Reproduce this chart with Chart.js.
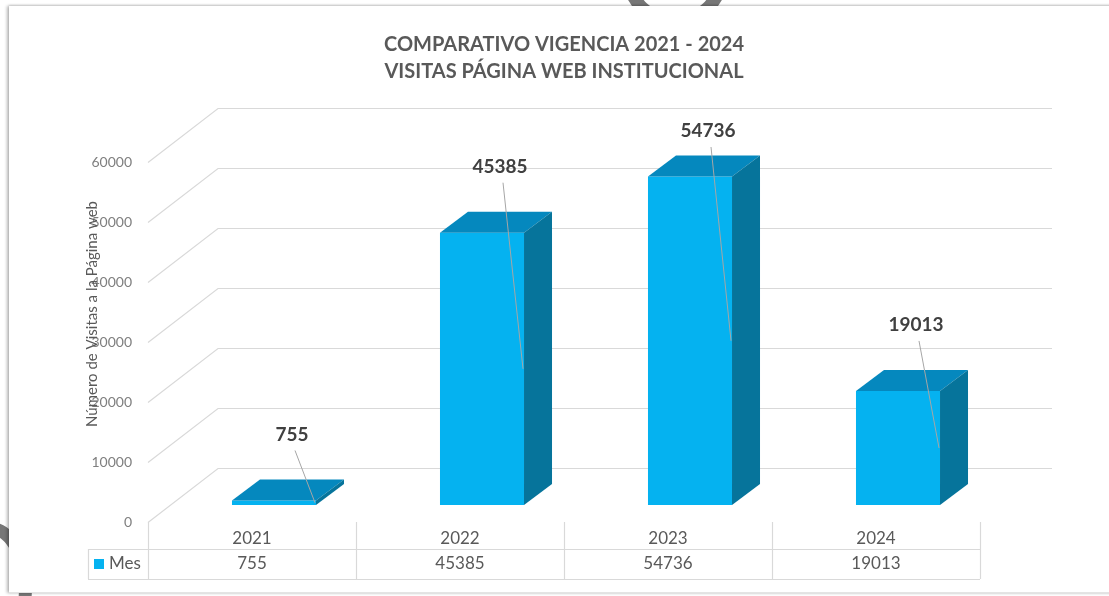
<!DOCTYPE html>
<html>
<head>
<meta charset="utf-8">
<title>Comparativo vigencia 2021 - 2024</title>
<script src="https://cdn.jsdelivr.net/npm/chart.js@4.4.1/dist/chart.umd.min.js"></script>
<style>
  html, body { margin: 0; padding: 0; background: #fff; overflow: hidden; }
  .ring { position: absolute; border-radius: 50%; border: 13px solid #777; }
  #card {
    position: absolute; left: 9px; top: 6px; width: 1110px; height: 586px;
    background: #fff;
    box-shadow: -2px 0 3px rgba(0,0,0,0.28), 0 -1px 2px rgba(0,0,0,0.12);
    border-bottom: 1px solid #e4e4e4;
  }
  #wrap { position: absolute; left: 0; top: 0; width: 1109px; height: 596px; }
</style>
</head>
<body>
<div class="ring" style="left:622px; top:-78px; width:80px; height:80px;"></div>
<div class="ring" style="left:-50px; top:522px; width:56px; height:110px;"></div>
<div id="card"></div>
<div id="wrap"><canvas id="grafico" width="1109" height="596"></canvas></div>

<script>
var years = ['2021', '2022', '2023', '2024'];
var visitas = [755, 45385, 54736, 19013];
var serieNombre = 'Mes';
var yTicks = [0, 10000, 20000, 30000, 40000, 50000, 60000];

var FONT = "Lato, 'Open Sans', sans-serif";
var AZUL = '#05B2F0';
var AZUL_TOP = '#0588BE';
var AZUL_LADO = '#06749B';

// profundidad de las paredes y de las barras
var wallDx = 70, wallDy = 54;
var shiftX = 22, shiftY = 17;
var barDx = 28, barDy = 21;

var efecto3D = {
    id: 'efecto3D',
    beforeDatasetsDraw: function(chart) {
        var ctx = chart.ctx;
        var y = chart.scales.y;
        var area = chart.chartArea;

        ctx.save();
        ctx.strokeStyle = '#d9d9d9';
        ctx.lineWidth = 1.2;
        for (var i = 0; i < yTicks.length; i++) {
            var py = Math.round(y.getPixelForValue(yTicks[i])) + 0.5;
            ctx.beginPath();
            ctx.moveTo(area.left, py);
            ctx.lineTo(area.left + wallDx, py - wallDy);
            ctx.lineTo(area.right + wallDx + 2, py - wallDy);
            ctx.stroke();
        }
        ctx.restore();

        // las barras se dibujan dentro del piso
        ctx.save();
        ctx.translate(shiftX, -shiftY);
    },
    afterDatasetsDraw: function(chart) {
        var ctx = chart.ctx;
        var bars = chart.getDatasetMeta(0).data;

        for (var i = 0; i < bars.length; i++) {
            var bar = bars[i];
            var l = bar.x - bar.width / 2;
            var r = bar.x + bar.width / 2;
            var t = bar.y;
            var b = bar.base;

            ctx.fillStyle = AZUL_TOP;
            ctx.beginPath();
            ctx.moveTo(l, t);
            ctx.lineTo(l + barDx, t - barDy);
            ctx.lineTo(r + barDx, t - barDy);
            ctx.lineTo(r, t);
            ctx.closePath();
            ctx.fill();

            ctx.fillStyle = AZUL_LADO;
            ctx.beginPath();
            ctx.moveTo(r, t);
            ctx.lineTo(r + barDx, t - barDy);
            ctx.lineTo(r + barDx, b - barDy);
            ctx.lineTo(r, b);
            ctx.closePath();
            ctx.fill();
        }
        ctx.restore();

        // etiquetas de datos con linea guia
        var area = chart.chartArea;
        ctx.save();
        for (var j = 0; j < bars.length; j++) {
            var bj = bars[j];
            var cx = bj.x + shiftX;
            var topBack = bj.y - shiftY - barDy;
            var lx = cx + 18;
            var ly = Math.max(topBack - 45, area.top - 31);
            var ex = cx + bj.width / 2 - 1;
            var ey = (bj.y + bj.base) / 2 - shiftY;

            ctx.strokeStyle = '#a6a6a6';
            ctx.lineWidth = 1;
            ctx.beginPath();
            ctx.moveTo(lx + 3, ly + 16);
            ctx.lineTo(ex, ey);
            ctx.stroke();

            ctx.fillStyle = '#404040';
            ctx.font = 'bold 19px ' + FONT;
            ctx.textAlign = 'center';
            ctx.textBaseline = 'middle';
            ctx.fillText(String(visitas[j]), lx, ly);
        }
        ctx.restore();
    },
    afterDraw: function(chart) {
        var ctx = chart.ctx;
        var area = chart.chartArea;
        var x = chart.scales.x;
        var colW = area.width / years.length;
        var rowTop = 549, rowBottom = 579, keyLeft = 88;

        ctx.save();
        ctx.strokeStyle = '#d9d9d9';
        ctx.lineWidth = 1.2;
        for (var i = 0; i <= years.length; i++) {
            var vx = Math.round(area.left + i * colW) + 0.5;
            ctx.beginPath();
            ctx.moveTo(vx, area.bottom);
            ctx.lineTo(vx, rowBottom);
            ctx.stroke();
        }
        ctx.beginPath();
        ctx.moveTo(keyLeft, rowTop + 0.5);
        ctx.lineTo(area.right, rowTop + 0.5);
        ctx.moveTo(keyLeft, rowBottom + 0.5);
        ctx.lineTo(area.right, rowBottom + 0.5);
        ctx.moveTo(keyLeft + 0.5, rowTop);
        ctx.lineTo(keyLeft + 0.5, rowBottom);
        ctx.stroke();

        ctx.fillStyle = AZUL;
        ctx.fillRect(94, 559, 10, 10);

        ctx.fillStyle = '#595959';
        ctx.font = '17px ' + FONT;
        ctx.textBaseline = 'middle';
        ctx.textAlign = 'left';
        ctx.fillText(serieNombre, 109, 564);

        ctx.textAlign = 'center';
        for (var k = 0; k < visitas.length; k++) {
            ctx.fillText(String(visitas[k]), x.getPixelForValue(k), 564);
        }

        // titulo del eje vertical
        ctx.translate(92, 314);
        ctx.rotate(-Math.PI / 2);
        ctx.font = '15px ' + FONT;
        ctx.fillText('Número de Visitas a la Página web', 0, 0);
        ctx.restore();
    }
};

new Chart(document.getElementById('grafico'), {
    type: 'bar',
    data: {
        labels: years,
        datasets: [{
            label: serieNombre,
            data: visitas,
            backgroundColor: AZUL,
            borderWidth: 0,
            barPercentage: 0.404,
            categoryPercentage: 1
        }]
    },
    options: {
        responsive: false,
        animation: false,
        layout: { padding: { left: 0, right: 129, top: 0, bottom: 0 } },
        plugins: {
            legend: { display: false },
            tooltip: { enabled: false },
            title: {
                display: true,
                fullSize: false,
                text: ['COMPARATIVO VIGENCIA 2021 - 2024', 'VISITAS PÁGINA WEB INSTITUCIONAL'],
                color: '#595959',
                font: { family: FONT, size: 20, weight: 'bold', lineHeight: 1.35 },
                padding: { top: 31, bottom: 77 }
            }
        },
        scales: {
            x: {
                grid: { display: false },
                border: { display: false },
                ticks: { color: '#595959', font: { family: FONT, size: 17 }, padding: -2 },
                afterFit: function(scale) { scale.height = 74; }
            },
            y: {
                min: 0,
                max: 60000,
                grid: { display: false },
                border: { display: false },
                ticks: {
                    stepSize: 10000,
                    color: '#7f7f7f',
                    font: { family: FONT, size: 14 },
                    padding: 8,
                    callback: function(value) { return String(value); }
                },
                afterFit: function(scale) { scale.width = 148; }
            }
        }
    },
    plugins: [efecto3D]
});
</script>
</body>
</html>
